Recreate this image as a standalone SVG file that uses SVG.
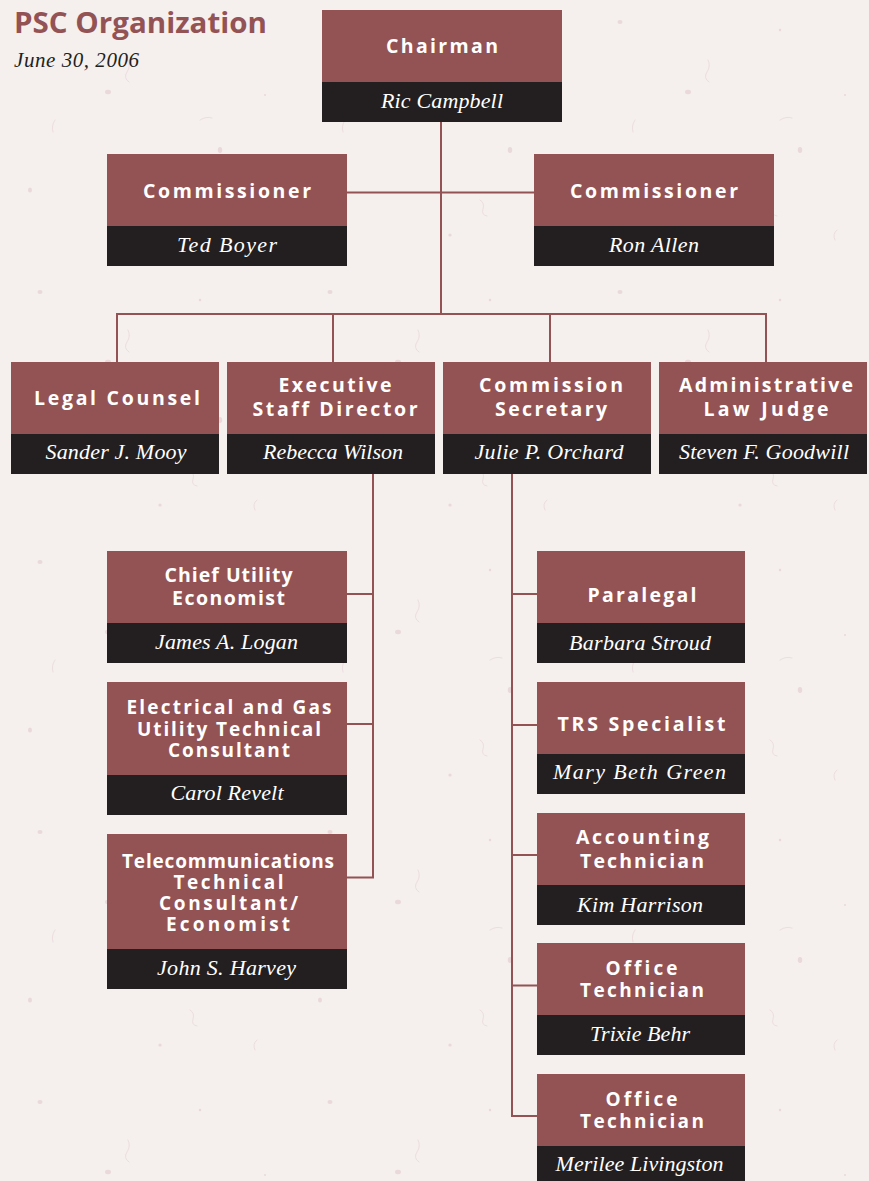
<svg xmlns="http://www.w3.org/2000/svg" width="869" height="1181" viewBox="0 0 869 1181">
  <defs>
    <style>
      .head { fill: #935354; }
      .band { fill: #231f20; }
      .role { font-family: "Open Sans", "DejaVu Sans", sans-serif; font-weight: 700; font-size: 19.5px; fill: #ffffff; text-anchor: middle; font-variant-ligatures: none; }
      .tight { font-size: 19px; }
      .name { font-family: "Liberation Serif", "DejaVu Serif", serif; font-style: italic; font-size: 22px; fill: #ffffff; text-anchor: middle; }
      .link { fill: none; stroke: #935354; stroke-width: 2; }
      .title { font-family: "Open Sans", "DejaVu Sans", sans-serif; font-weight: 700; font-size: 29px; fill: #935354; }
      .date { font-family: "Liberation Serif", "DejaVu Serif", serif; font-style: italic; font-size: 21px; fill: #231f20; }
      .fleck { fill: #ead9db; }
      .fiber { fill: none; stroke: #ecdee0; stroke-width: 1; stroke-linecap: round; }
    </style>
    <!-- paper texture: faint flecks and fibres -->
    <pattern id="paper" x="0" y="0" width="290" height="270" patternUnits="userSpaceOnUse">
      <rect width="290" height="270" fill="#f5efee"/>
      <ellipse class="fleck" cx="40" cy="22" rx="2.5" ry="2"/>
      <ellipse class="fleck" cx="108" cy="92" rx="3" ry="2.2"/>
      <ellipse class="fleck" cx="220" cy="150" rx="2.2" ry="3"/>
      <ellipse class="fleck" cx="30" cy="190" rx="2" ry="2.5"/>
      <ellipse class="fleck" cx="160" cy="235" rx="1.6" ry="1.6"/>
      <circle class="fleck" cx="200" cy="30" r="1.2"/>
      <circle class="fleck" cx="265" cy="95" r="1"/>
      <path class="fiber" d="M128 60 q3 6 -1 12 t2 10"/>
      <path class="fiber" d="M200 120 q6 -4 12 -2"/>
      <path class="fiber" d="M55 120 q-4 6 -2 12"/>
      <path class="fiber" d="M190 200 q5 3 3 9 t4 7"/>
      <path class="fiber" d="M255 240 q-3 -6 2 -10"/>
    </pattern>
  </defs>

  <rect width="869" height="1181" fill="url(#paper)"/>

  <!-- heading -->
  <text class="title" x="14" y="33" textLength="253" lengthAdjust="spacingAndGlyphs">PSC Organization</text>
  <text class="date" x="14" y="67" textLength="125">June 30, 2006</text>

  <!-- connectors -->
  <g id="connectors">
    <path class="link" d="M441 122 V314"/>
    <path class="link" d="M347 192.5 H534"/>
    <path class="link" d="M117 362 V314 H766 V362"/>
    <path class="link" d="M333 314 V362"/>
    <path class="link" d="M550 314 V362"/>
    <path class="link" d="M373 474 V877.5 H347"/>
    <path class="link" d="M373 594 H347"/>
    <path class="link" d="M373 724 H347"/>
    <path class="link" d="M512 474 V1116 H537"/>
    <path class="link" d="M512 594 H537"/>
    <path class="link" d="M512 725 H537"/>
    <path class="link" d="M512 855 H537"/>
    <path class="link" d="M512 985.5 H537"/>
  </g>

  <!-- top level -->
  <g id="chairman">
    <rect class="head" x="322" y="10" width="240" height="72"/>
    <rect class="band" x="322" y="82" width="240" height="40"/>
    <text class="role" x="442" y="52.5" textLength="112">Chairman</text>
    <text class="name" x="442" y="107.5" textLength="122">Ric Campbell</text>
  </g>

  <g id="commissioner-boyer">
    <rect class="head" x="107" y="154" width="240" height="72"/>
    <rect class="band" x="107" y="226" width="240" height="40"/>
    <text class="role" x="227" y="197.5" textLength="168">Commissioner</text>
    <text class="name" x="227" y="252" textLength="100">Ted Boyer</text>
  </g>

  <g id="commissioner-allen">
    <rect class="head" x="534" y="154" width="240" height="72"/>
    <rect class="band" x="534" y="226" width="240" height="40"/>
    <text class="role" x="654" y="197.5" textLength="168">Commissioner</text>
    <text class="name" x="654" y="252" textLength="90">Ron Allen</text>
  </g>

  <!-- staff heads -->
  <g id="legal-counsel">
    <rect class="head" x="11" y="362" width="208" height="72"/>
    <rect class="band" x="11" y="434" width="208" height="40"/>
    <text class="role" x="117" y="405" textLength="166">Legal Counsel</text>
    <text class="name" x="116" y="459" textLength="141">Sander J. Mooy</text>
  </g>

  <g id="executive-staff-director">
    <rect class="head" x="227" y="362" width="208" height="72"/>
    <rect class="band" x="227" y="434" width="208" height="40"/>
    <text class="role" x="335" y="391.5" textLength="113">Executive</text>
    <text class="role" x="335" y="415.5" textLength="165">Staff Director</text>
    <text class="name" x="333" y="459" textLength="140">Rebecca Wilson</text>
  </g>

  <g id="commission-secretary">
    <rect class="head" x="443" y="362" width="208" height="72"/>
    <rect class="band" x="443" y="434" width="208" height="40"/>
    <text class="role" x="551" y="391.5" textLength="144">Commission</text>
    <text class="role" x="551" y="415.5" textLength="112">Secretary</text>
    <text class="name" x="549" y="459" textLength="149">Julie P. Orchard</text>
  </g>

  <g id="administrative-law-judge">
    <rect class="head" x="659" y="362" width="208" height="72"/>
    <rect class="band" x="659" y="434" width="208" height="40"/>
    <text class="role" x="766" y="391.5" textLength="174">Administrative</text>
    <text class="role" x="766" y="415.5" textLength="125">Law Judge</text>
    <text class="name" x="764" y="459" textLength="170">Steven F. Goodwill</text>
  </g>

  <!-- executive staff -->
  <g id="chief-utility-economist">
    <rect class="head" x="107" y="551" width="240" height="72"/>
    <rect class="band" x="107" y="623" width="240" height="40"/>
    <text class="role" x="228.5" y="581.5" textLength="128">Chief Utility</text>
    <text class="role" x="228.5" y="605" textLength="113">Economist</text>
    <text class="name" x="226.5" y="649" textLength="143">James A. Logan</text>
  </g>

  <g id="electrical-gas-consultant">
    <rect class="head" x="107" y="682" width="240" height="93"/>
    <rect class="band" x="107" y="775" width="240" height="40"/>
    <text class="role tight" x="229" y="713.5" textLength="205">Electrical and Gas</text>
    <text class="role tight" x="229" y="735.5" textLength="184">Utility Technical</text>
    <text class="role tight" x="229" y="757" textLength="122">Consultant</text>
    <text class="name" x="227" y="800" textLength="113">Carol Revelt</text>
  </g>

  <g id="telecom-consultant">
    <rect class="head" x="107" y="834" width="240" height="115"/>
    <rect class="band" x="107" y="949" width="240" height="40"/>
    <text class="role tight" x="228" y="867.5" textLength="212">Telecommunications</text>
    <text class="role tight" x="228.5" y="889" textLength="110">Technical</text>
    <text class="role tight" x="228.5" y="910" textLength="139">Consultant/</text>
    <text class="role tight" x="228" y="931" textLength="124">Economist</text>
    <text class="name" x="226.5" y="975" textLength="139">John S. Harvey</text>
  </g>

  <!-- secretary staff -->
  <g id="paralegal">
    <rect class="head" x="537" y="551" width="208" height="72"/>
    <rect class="band" x="537" y="623" width="208" height="40"/>
    <text class="role" x="642" y="601.5" textLength="109">Paralegal</text>
    <text class="name" x="640" y="649.5" textLength="142">Barbara Stroud</text>
  </g>

  <g id="trs-specialist">
    <rect class="head" x="537" y="682" width="208" height="72"/>
    <rect class="band" x="537" y="754" width="208" height="40"/>
    <text class="role" x="641.5" y="730.5" textLength="168">TRS Specialist</text>
    <text class="name" x="639.5" y="778.5" textLength="173">Mary Beth Green</text>
  </g>

  <g id="accounting-technician">
    <rect class="head" x="537" y="813" width="208" height="72"/>
    <rect class="band" x="537" y="885" width="208" height="40"/>
    <text class="role" x="642.5" y="844" textLength="133">Accounting</text>
    <text class="role" x="642" y="868" textLength="124">Technician</text>
    <text class="name" x="640" y="911.5" textLength="126">Kim Harrison</text>
  </g>

  <g id="office-technician-behr">
    <rect class="head" x="537" y="943" width="208" height="72"/>
    <rect class="band" x="537" y="1015" width="208" height="40"/>
    <text class="role tight" x="641.5" y="975" textLength="72">Office</text>
    <text class="role tight" x="642" y="996.5" textLength="124">Technician</text>
    <text class="name" x="640" y="1040.5" textLength="100">Trixie Behr</text>
  </g>

  <g id="office-technician-livingston">
    <rect class="head" x="537" y="1074" width="208" height="72"/>
    <rect class="band" x="537" y="1146" width="208" height="40"/>
    <text class="role tight" x="641.5" y="1106" textLength="72">Office</text>
    <text class="role tight" x="642" y="1127.5" textLength="124">Technician</text>
    <text class="name" x="639.5" y="1170.5" textLength="168">Merilee Livingston</text>
  </g>
</svg>
